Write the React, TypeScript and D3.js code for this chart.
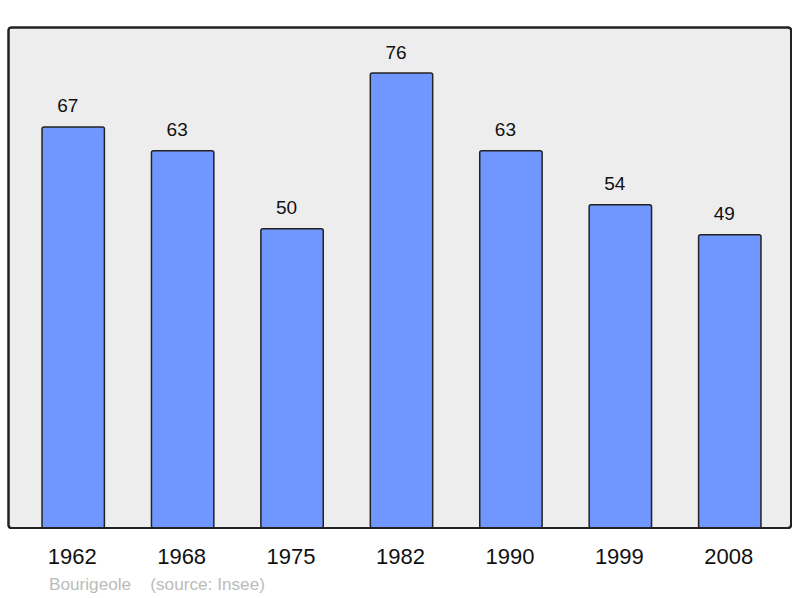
import React from "react";
import * as d3 from "d3";

const years = ["1962", "1968", "1975", "1982", "1990", "1999", "2008"];
const values = [67, 63, 50, 76, 63, 54, 49];
const caption = "Bourigeole    (source: Insee)";

export default function App() {
  const W = 800, H = 598;
  const baseY = 528;
  const y = d3.scaleLinear().domain([0, 76]).range([baseY, 73]);
  const x = d3.scaleBand().domain(years).range([18.5, 784.5]).paddingInner(0.43).paddingOuter(0.215);
  const font = "'Liberation Sans', Arial, sans-serif";
  return (
    <svg width={W} height={H} style={{ position: "absolute", left: 0, top: 0 }}>
      <rect x={8.5} y={27.5} width={782.5} height={500.5} rx={3} fill="#ededed" stroke="#222" strokeWidth={2} />
      {years.map((yr, i) => {
        const v = values[i];
        const bx = x(yr)!;
        const bw = x.bandwidth();
        return (
          <g key={yr}>
            <rect x={bx} y={y(v)} width={bw} height={baseY - y(v)} rx={2} fill="#7097ff" stroke="#222" strokeWidth={1.5} />
            <text x={bx + bw / 2 - 5.5} y={y(v) - 14.5} textAnchor="middle" fontFamily={font} fontSize={19} fill="#111">{v}</text>
            <text x={bx + bw / 2 - 1} y={564} textAnchor="middle" fontFamily={font} fontSize={22} fill="#111">{yr}</text>
          </g>
        );
      })}
      <rect x={8.5} y={27.5} width={782.5} height={500.5} rx={3} fill="none" stroke="#222" strokeWidth={2} />
      <text x={49} y={590} fontFamily={font} fontSize={17.2} fill="#bbb" style={{ whiteSpace: "pre" }}>{caption}</text>
    </svg>
  );
}
